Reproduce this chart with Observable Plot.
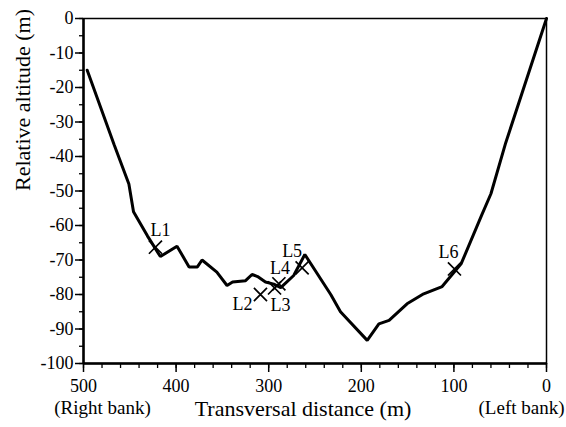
<!DOCTYPE html>
<html>
<head>
<meta charset="utf-8">
<script src="https://cdn.jsdelivr.net/npm/d3@7"></script>
<script src="https://cdn.jsdelivr.net/npm/@observablehq/plot@0.6"></script>
<style>
  html, body { margin: 0; padding: 0; background: white; }
</style>
</head>
<body>
<div id="chart"></div>
<script>
// Cross-section profile (distance from left bank in m, relative altitude in m)
const profileX = [496, 467, 451, 446, 431, 417, 399, 386, 377, 372, 356, 345, 339, 325, 318, 312, 303.5, 294.5, 287, 273, 261, 233, 222.5, 193.6, 181, 170, 150.6, 132.6, 112.7, 92, 70, 60, 44, 0];
const profileY = [-15, -36.5, -48, -56, -63, -69, -66, -72, -72, -70, -73.5, -77.4, -76.4, -76, -74.2, -74.8, -76.4, -77, -78, -74.5, -68.4, -80, -85, -93.3, -88.5, -87.5, -82.7, -79.8, -77.7, -71, -57, -50.8, -36, 0];

// Sample locations
const siteNames = ["L1", "L2", "L3", "L4", "L5", "L6"];
const siteX = [422.3, 308.9, 293.7, 289, 263.9, 99.4];
const siteY = [-66.3, -80, -78.1, -76.9, -72.3, -72.6];

// Axis ticks
const xTicks = [500, 400, 300, 200, 100, 0];
const xMinorTicks = d3.range(0, 501, 20);
const yTicks = d3.range(-100, 1, 10);
const yMinorTicks = d3.range(-100, 1, 5);
const bankLabels = ["(Right bank)", "(Left bank)"];
const bankX = [500, 0];
const xTitle = "Transversal distance (m)";
const yTitle = "Relative altitude (m)";

const profile = profileX.map((x, i) => ({x, y: profileY[i]}));
const sites = siteNames.map((name, i) => ({name, x: siteX[i], y: siteY[i]}));

// label offsets (pixels) relative to each marker
const labelOffset = {L1: [5, -17], L2: [-18, 10], L3: [6, 17], L4: [1, -16], L5: [-10, -17], L6: [-6, -17]};

const font = "'Liberation Serif', 'Times New Roman', serif";

const chart = Plot.plot({
  width: 566,
  height: 427,
  marginLeft: 83,
  marginRight: 20,
  marginTop: 18,
  marginBottom: 64,
  style: {fontFamily: font, fontSize: "18px", background: "white", color: "black"},
  x: {domain: [500, 0], label: null},
  y: {domain: [-100, 0], label: null},
  marks: [
    Plot.axisX({ticks: xMinorTicks, tickSize: 5, text: null, strokeWidth: 1.3}),
    Plot.axisX({ticks: xTicks, tickSize: 9, tickPadding: 7, tickFormat: d => String(d), fontSize: 18, strokeWidth: 1.5, label: null}),
    Plot.axisY({ticks: yMinorTicks, tickSize: 4, text: null, strokeWidth: 1.3}),
    Plot.axisY({ticks: yTicks, tickSize: 8, tickPadding: 2, tickFormat: d => String(d), fontSize: 18, strokeWidth: 1.5, label: null}),
    Plot.frame({stroke: "black", strokeWidth: 1.5}),
    Plot.ruleX([500], {stroke: "black", strokeWidth: 2.5}),
    Plot.ruleY([-100], {stroke: "black", strokeWidth: 2.5}),
    Plot.line(profile, {x: "x", y: "y", stroke: "black", strokeWidth: 3, strokeLinejoin: "miter"}),
    Plot.dot(sites, {x: "x", y: "y", symbol: "times", r: 6, stroke: "black", strokeWidth: 1.7}),
    ...sites.map(s => Plot.text([s], {x: "x", y: "y", text: "name", dx: labelOffset[s.name][0], dy: labelOffset[s.name][1], fontSize: 18})),
    Plot.text([bankLabels[0]], {x: () => bankX[0], frameAnchor: "bottom", text: d => d, dx: 19, dy: 50, fontSize: 19}),
    Plot.text([bankLabels[1]], {x: () => bankX[1], frameAnchor: "bottom", text: d => d, dx: -25, dy: 50, fontSize: 19}),
    Plot.text([xTitle], {frameAnchor: "bottom", text: d => d, dx: -12, dy: 52, fontSize: 22}),
    Plot.text([yTitle], {frameAnchor: "left", text: d => d, rotate: -90, dx: -61, fontSize: 22})
  ]
});
document.getElementById("chart").appendChild(chart);
</script>
</body>
</html>
